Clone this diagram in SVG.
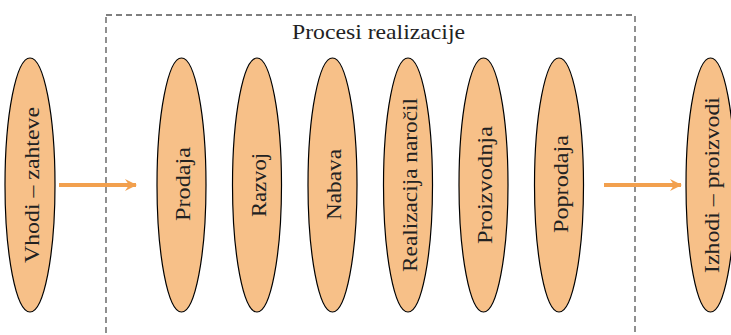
<svg xmlns="http://www.w3.org/2000/svg" width="731" height="335" viewBox="0 0 731 335">
  <style>
    .node ellipse { fill: #F7C088; stroke: #000; stroke-width: 1.2; }
    .node text, .title { font-family: "Liberation Serif", "DejaVu Serif", serif; font-size: 22px; fill: #222; }
    .node text { text-anchor: middle; dominant-baseline: central; }
    .frame { fill: none; stroke: #555; stroke-width: 1.3; stroke-dasharray: 6 4; }
    .flow { stroke: #F2A04E; stroke-width: 4; fill: none; }
  </style>
  <defs>
    <marker id="chev" viewBox="0 0 12 12" refX="11" refY="6" markerWidth="12" markerHeight="12" markerUnits="userSpaceOnUse" orient="auto">
      <path d="M0,0 L12,6 L0,12 L4,6 Z" fill="#F2A04E"/>
    </marker>
  </defs>

  <!-- process boundary -->
  <g id="process-frame">
    <rect class="frame" x="106" y="15" width="529" height="340"/>
    <text class="title" x="378.5" y="39" text-anchor="middle" textLength="173" lengthAdjust="spacingAndGlyphs">Procesi realizacije</text>
  </g>

  <g id="n-vhodi" class="node">
    <ellipse cx="30" cy="185" rx="25" ry="127"/>
    <text transform="translate(31 185) rotate(-90)" textLength="156" lengthAdjust="spacingAndGlyphs">Vhodi – zahteve</text>
  </g>
  <g id="n-prodaja" class="node">
    <ellipse cx="181.5" cy="185" rx="24.5" ry="127"/>
    <text transform="translate(182.5 184) rotate(-90)" textLength="74" lengthAdjust="spacingAndGlyphs">Prodaja</text>
  </g>
  <g id="n-razvoj" class="node">
    <ellipse cx="257" cy="185" rx="24.5" ry="127"/>
    <text transform="translate(258 185) rotate(-90)" textLength="64" lengthAdjust="spacingAndGlyphs">Razvoj</text>
  </g>
  <g id="n-nabava" class="node">
    <ellipse cx="332.5" cy="185" rx="24.5" ry="127"/>
    <text transform="translate(333.5 184.5) rotate(-90)" textLength="71" lengthAdjust="spacingAndGlyphs">Nabava</text>
  </g>
  <g id="n-realizacija" class="node">
    <ellipse cx="408" cy="185" rx="24.5" ry="127"/>
    <text transform="translate(409 185) rotate(-90)" textLength="174" lengthAdjust="spacingAndGlyphs">Realizacija naročil</text>
  </g>
  <g id="n-proizvodnja" class="node">
    <ellipse cx="483.5" cy="185" rx="24.5" ry="127"/>
    <text transform="translate(484.5 185) rotate(-90)" textLength="118" lengthAdjust="spacingAndGlyphs">Proizvodnja</text>
  </g>
  <g id="n-poprodaja" class="node">
    <ellipse cx="559" cy="185" rx="24.5" ry="127"/>
    <text transform="translate(560 184) rotate(-90)" textLength="98" lengthAdjust="spacingAndGlyphs">Poprodaja</text>
  </g>
  <g id="n-izhodi" class="node">
    <ellipse cx="710.5" cy="185" rx="24.5" ry="127"/>
    <text transform="translate(711.5 185) rotate(-90)" textLength="176" lengthAdjust="spacingAndGlyphs">Izhodi – proizvodi</text>
  </g>

  <g id="connectors">
    <line class="flow" x1="59" y1="185" x2="136" y2="185" marker-end="url(#chev)"/>
    <line class="flow" x1="604" y1="185" x2="681" y2="185" marker-end="url(#chev)"/>
  </g>
</svg>
